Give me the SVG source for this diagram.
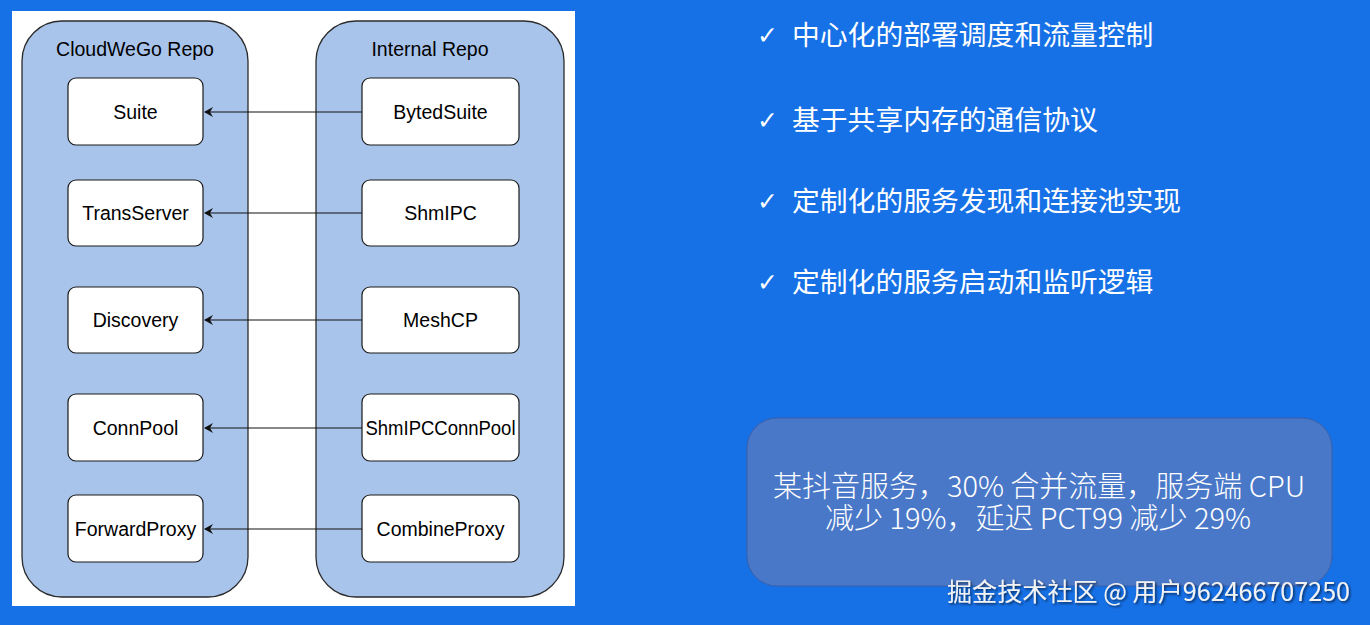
<svg xmlns="http://www.w3.org/2000/svg" width="1370" height="625" viewBox="0 0 1370 625">
<style>
.bg{fill:#1670e6}
.panel{fill:#ffffff}
.repo{fill:#a9c4eb;stroke:#2b2b2b;stroke-width:1.3}
.node{fill:#ffffff;stroke:#1a1a1a;stroke-width:1.2}
.lbl{font-family:"Liberation Sans",Arial,sans-serif;font-size:19.5px;fill:#000;text-anchor:middle;dominant-baseline:central}
.conn{stroke:#111;stroke-width:1;fill:none}
.bullet{font-family:"Noto Sans CJK SC","Noto Sans",sans-serif;font-size:27.8px;fill:#ffffff}
.check{font-family:"DejaVu Sans",sans-serif;font-size:25px;font-weight:bold;fill:#ffffff}
.stat{font-family:"Noto Sans CJK SC","Noto Sans",sans-serif;font-size:29px;fill:#ffffff;text-anchor:middle;font-weight:300}
.wm{font-family:"Noto Sans CJK SC","Noto Sans",sans-serif;font-size:25px;fill:#f2f2f2}
</style>
<defs>
<marker id="arr" markerWidth="10" markerHeight="10" refX="8" refY="5" orient="auto" markerUnits="userSpaceOnUse">
<path d="M0,0 L9,5 L0,10 L3,5 Z" fill="#111"/>
</marker>
<filter id="sh" x="-5%" y="-20%" width="110%" height="140%">
<feDropShadow dx="1.5" dy="1.5" stdDeviation="1" flood-color="#000" flood-opacity="0.6"/>
</filter>
</defs>
<rect class="bg" x="0" y="0" width="1370" height="625"/>
<rect class="panel" x="12" y="11" width="563" height="595"/>
<g id="cloudwego-repo">
<rect class="repo" x="22" y="21" width="226" height="576" rx="40"/>
<text class="lbl" x="135" y="49">CloudWeGo Repo</text>
</g>
<g id="internal-repo">
<rect class="repo" x="316" y="21" width="248" height="576" rx="40"/>
<text class="lbl" x="430" y="49">Internal Repo</text>
</g>
<g id="suite"><rect class="node" x="68" y="78" width="135" height="67" rx="8"/><text class="lbl" x="135.5" y="112">Suite</text></g>
<g id="transserver"><rect class="node" x="68" y="180" width="135" height="66" rx="8"/><text class="lbl" x="135.5" y="213">TransServer</text></g>
<g id="discovery"><rect class="node" x="68" y="287" width="135" height="66" rx="8"/><text class="lbl" x="135.5" y="320">Discovery</text></g>
<g id="connpool"><rect class="node" x="68" y="394" width="135" height="67" rx="8"/><text class="lbl" x="135.5" y="428">ConnPool</text></g>
<g id="forwardproxy"><rect class="node" x="68" y="495" width="135" height="67" rx="8"/><text class="lbl" x="135.5" y="529">ForwardProxy</text></g>
<g id="bytedsuite"><rect class="node" x="362" y="78" width="157" height="67" rx="8"/><text class="lbl" x="440.5" y="112">BytedSuite</text></g>
<g id="shmipc"><rect class="node" x="362" y="180" width="157" height="66" rx="8"/><text class="lbl" x="440.5" y="213">ShmIPC</text></g>
<g id="meshcp"><rect class="node" x="362" y="287" width="157" height="66" rx="8"/><text class="lbl" x="440.5" y="320">MeshCP</text></g>
<g id="shmipcconnpool"><rect class="node" x="362" y="394" width="157" height="67" rx="8"/><text class="lbl" x="440.5" y="428" textLength="150" lengthAdjust="spacingAndGlyphs">ShmIPCConnPool</text></g>
<g id="combineproxy"><rect class="node" x="362" y="495" width="157" height="67" rx="8"/><text class="lbl" x="440.5" y="529">CombineProxy</text></g>
<g id="connectors">
<line class="conn" x1="362" y1="112" x2="205" y2="112" marker-end="url(#arr)"/>
<line class="conn" x1="362" y1="213" x2="205" y2="213" marker-end="url(#arr)"/>
<line class="conn" x1="362" y1="320" x2="205" y2="320" marker-end="url(#arr)"/>
<line class="conn" x1="362" y1="428" x2="205" y2="428" marker-end="url(#arr)"/>
<line class="conn" x1="362" y1="529" x2="205" y2="529" marker-end="url(#arr)"/>
</g>
<g id="bullets">
<text class="check" x="757" y="44">✓</text><text class="bullet" x="792" y="45">中心化的部署调度和流量控制</text>
<text class="check" x="757" y="129">✓</text><text class="bullet" x="792" y="130">基于共享内存的通信协议</text>
<text class="check" x="757" y="210">✓</text><text class="bullet" x="792" y="211">定制化的服务发现和连接池实现</text>
<text class="check" x="757" y="291">✓</text><text class="bullet" x="792" y="292">定制化的服务启动和监听逻辑</text>
</g>
<g id="stat-box">
<rect x="747" y="418" width="585" height="168" rx="30" fill="#4a78c8" stroke="#3a5fa8" stroke-width="1"/>
<text class="stat" x="1039" y="497">某抖音服务，30% 合并流量，服务端 CPU</text>
<text class="stat" x="1038" y="529">减少 19%，延迟 PCT99 减少 29%</text>
</g>
<text class="wm" x="947" y="601" filter="url(#sh)" textLength="403" lengthAdjust="spacingAndGlyphs">掘金技术社区 @ 用户962466707250</text>
</svg>
